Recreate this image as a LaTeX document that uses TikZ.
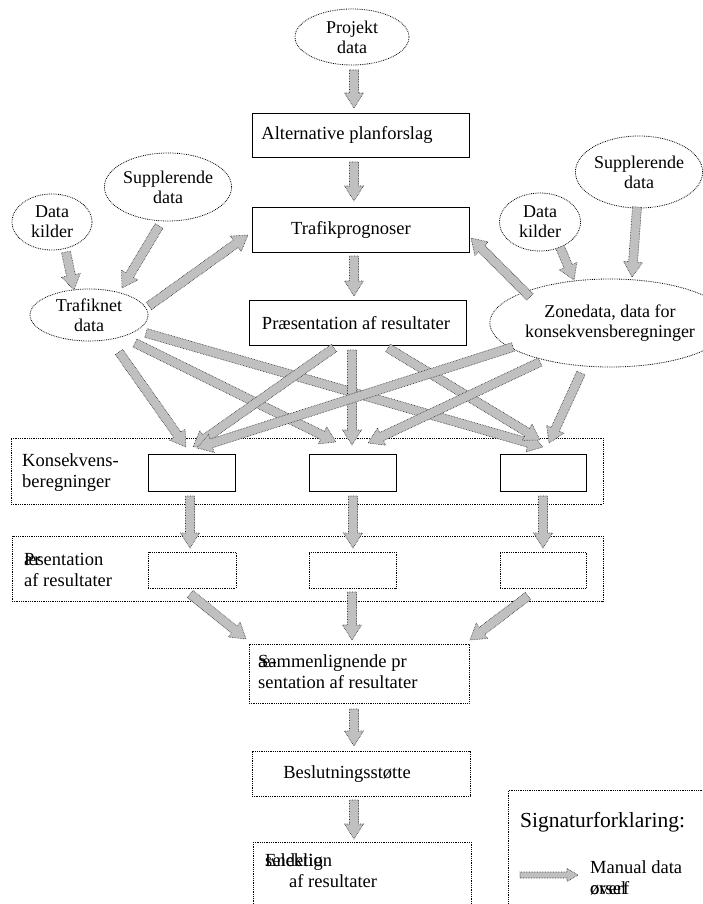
\documentclass[tikz,border=0pt]{standalone}
\usepackage{fontspec}
\setmainfont{Liberation Serif}
\usetikzlibrary{shapes.geometric,calc}
\definecolor{agray}{RGB}{192,192,192}
\tikzset{
  txt/.style={inner sep=0pt, font=\fontsize{18.5}{21}\selectfont, align=center},
  solidbox/.style={draw=black, line width=0.8pt, inner sep=0pt},
  dotbox/.style={draw=black, line width=0.8pt, densely dotted, inner sep=0pt},
  ell/.style={draw=black, line width=0.8pt, densely dotted, ellipse, inner sep=0pt, align=center, font=\fontsize{18}{20}\selectfont},
  barr/.style={draw=black!85, line width=0.6pt, densely dotted, fill=agray},
}
% block arrow between two named coordinates
\newcommand\barrowx[5]{%
  \path[barr] let \p1=(#1), \p2=(#2), \n1={atan2(\y2-\y1,\x2-\x1)}, \n2={veclen(\x2-\x1,\y2-\y1)} in
    [shift={(\p1)}, rotate=\n1]
    (0pt,{-#3 pt}) -- ({\n2-#5 pt},{-#3 pt}) -- ({\n2-#5 pt},{-#4 pt}) -- ({\n2},0pt)
    -- ({\n2-#5 pt},{#4 pt}) -- ({\n2-#5 pt},{#3 pt}) -- (0pt,{#3 pt}) -- cycle;}
\newcommand\barrow[2]{\barrowx{#1}{#2}{4.5}{9.5}{15}}
\begin{document}
\begin{tikzpicture}[x=1pt,y=-1pt]
\useasboundingbox (0,0) rectangle (703,904);
\clip (0,0) rectangle (703,904);

% ---- ellipses
\node[ell, minimum width=114pt, minimum height=56pt] (proj) at (352,37) {Projekt\\data};
\node[ell, minimum width=126pt, minimum height=68pt] (supL) at (168,187) {Supplerende\\data};
\node[ell, minimum width=80pt, minimum height=56pt] (dkL) at (52,222) {Data\\kilder};
\node[ell, minimum width=118pt, minimum height=52pt] (tnet) at (89,315) {Trafiknet\\data};
\node[ell, minimum width=126pt, minimum height=72pt] (supR) at (639,172) {Supplerende\\data};
\node[ell, minimum width=81pt, minimum height=58pt] (dkR) at (540,222) {Data\\kilder};
\node[ell, minimum width=188pt, minimum height=88pt] (zone) at (610,323) {Zonedata, data for\\konsekvensberegninger};

% ---- top boxes
\node[solidbox, minimum width=217pt, minimum height=44pt] (alt) at (360.5,135) {};
\node[txt] (altt) at (347,135) {Alternative planforslag};
\node[solidbox, minimum width=217pt, minimum height=45pt] (traf) at (360.5,229.5) {};
\node[txt] (traft) at (351,230) {Trafikprognoser};
\node[solidbox, minimum width=217pt, minimum height=45pt] (praes) at (357.5,322.5) {};
\node[txt] (praest) at (356,323) {Præsentation af resultater};

% ---- Konsekvens panel
\node[dotbox, minimum width=592pt, minimum height=66pt] (kons) at (307,471) {};
\node[txt, align=left, anchor=west] (konst) at (22,473) {Konsekvens-\\beregninger};
\node[solidbox, minimum width=87pt, minimum height=37pt] (k1) at (191.5,472.5) {};
\node[solidbox, minimum width=87pt, minimum height=37pt] (k2) at (352.5,472.5) {};
\node[solidbox, minimum width=86pt, minimum height=37pt] (k3) at (543,472.5) {};

% ---- Praesentation panel
\node[dotbox, minimum width=591pt, minimum height=65pt] (pres) at (307.5,568.5) {};
\node[txt, align=left, anchor=west] (prest) at (24,570) {\rlap{Pr}æsentation\\af resultater};
\node[dotbox, minimum width=88pt, minimum height=36pt] (p1) at (192,570) {};
\node[dotbox, minimum width=87pt, minimum height=36pt] (p2) at (352.5,570) {};
\node[dotbox, minimum width=86pt, minimum height=36pt] (p3) at (543,570) {};

% ---- lower boxes
\node[dotbox, minimum width=220pt, minimum height=59pt] (samm) at (359,673.5) {};
\node[txt, align=left, anchor=west] (sammt) at (258,672) {\rlap{æ-}Sammenlignende pr\\sentation af resultater};
\node[dotbox, minimum width=218pt, minimum height=45pt] (besl) at (361,773.5) {};
\node[txt] (beslt) at (347,774) {Beslutningsstøtte};
\node[dotbox, minimum width=218pt, minimum height=90pt, anchor=north west] (fin) at (253,842) {};
\node[txt, align=left, anchor=north west] (fint) at (265,853) {\rlap{Endelig}selektion\\\hspace*{24pt}af resultater};

% ---- legend
\node[dotbox, minimum width=220pt, minimum height=130pt, anchor=north west] (leg) at (508,790) {};
\node[txt, anchor=west, font=\fontsize{21.5}{23}\selectfont] (legt) at (520,822) {Signaturforklaring:};
\node[txt, align=left, anchor=west] (legm) at (590,878) {Manual data\\\rlap{ørsel}overf};
\coordinate (lg1) at (520,875);
\coordinate (lg2) at (578,875);
\barrowx{lg1}{lg2}{3}{6.5}{11}

% ---- arrow end points
\coordinate (a1s) at (354,70);  \coordinate (a1e) at (354,108);
\coordinate (a2s) at (354,162); \coordinate (a2e) at (354,201);
\coordinate (a3s) at (354,256); \coordinate (a3e) at (354,296);
\coordinate (b1s) at (66,252);  \coordinate (b1e) at (74,290);
\coordinate (b2s) at (159,226); \coordinate (b2e) at (122,288);
\coordinate (b3s) at (149,306); \coordinate (b3e) at (248,235);
\coordinate (b4s) at (637,207); \coordinate (b4e) at (632,277);
\coordinate (b5s) at (560,247); \coordinate (b5e) at (574,280);
\coordinate (b6s) at (530,297); \coordinate (b6e) at (471,238);
% cross arrows
\coordinate (c1s) at (119,352); \coordinate (c1e) at (186,447);
\coordinate (c2s) at (135,343); \coordinate (c2e) at (336,442);
\coordinate (c3s) at (146,333); \coordinate (c3e) at (543,447);
\coordinate (c4s) at (334,348); \coordinate (c4e) at (193,447);
\coordinate (c5s) at (352,350); \coordinate (c5e) at (352,445);
\coordinate (c6s) at (388,348); \coordinate (c6e) at (540,440);
\coordinate (c7s) at (513,347); \coordinate (c7e) at (197,448);
\coordinate (c8s) at (540,362); \coordinate (c8e) at (368,443);
\coordinate (c9s) at (581,373); \coordinate (c9e) at (549,443);
% down arrows
\coordinate (d1s) at (190,496); \coordinate (d1e) at (190,548);
\coordinate (d2s) at (353,496); \coordinate (d2e) at (353,548);
\coordinate (d3s) at (543,496); \coordinate (d3e) at (543,548);
\coordinate (e1s) at (190,594); \coordinate (e1e) at (246,639);
\coordinate (e2s) at (352,592); \coordinate (e2e) at (352,640);
\coordinate (e3s) at (528,596); \coordinate (e3e) at (470,640);
\coordinate (f1s) at (354,709); \coordinate (f1e) at (354,746);
\coordinate (f2s) at (354,800); \coordinate (f2e) at (354,839);

\barrow{a1s}{a1e}\barrow{a2s}{a2e}\barrow{a3s}{a3e}
\barrow{b1s}{b1e}\barrow{b2s}{b2e}\barrow{b3s}{b3e}
\barrow{b4s}{b4e}\barrow{b5s}{b5e}\barrow{b6s}{b6e}
\barrow{c1s}{c1e}\barrow{c2s}{c2e}\barrow{c3s}{c3e}
\barrow{c4s}{c4e}\barrow{c5s}{c5e}\barrow{c6s}{c6e}
\barrow{c7s}{c7e}\barrow{c8s}{c8e}\barrow{c9s}{c9e}
\barrow{d1s}{d1e}\barrow{d2s}{d2e}\barrow{d3s}{d3e}
\barrow{e1s}{e1e}\barrow{e2s}{e2e}\barrow{e3s}{e3e}
\barrow{f1s}{f1e}\barrow{f2s}{f2e}
\end{tikzpicture}
\end{document}
